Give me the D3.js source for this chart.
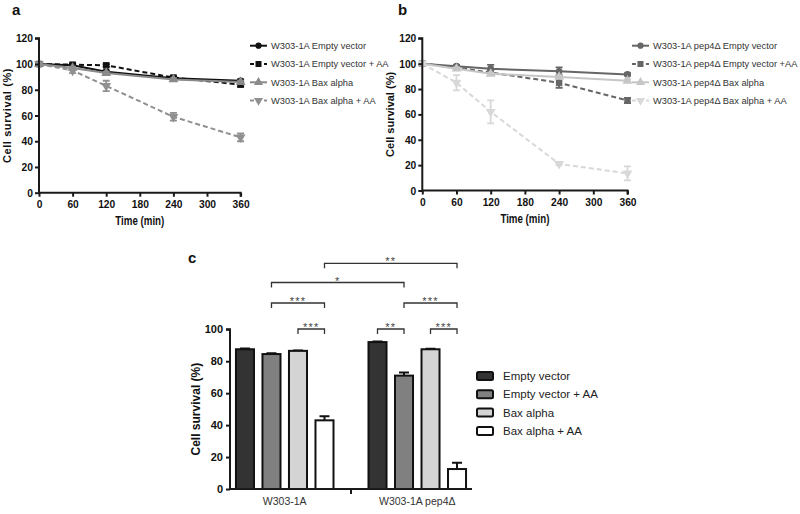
<!DOCTYPE html>
<html><head><meta charset="utf-8">
<script src="https://cdn.jsdelivr.net/npm/d3@7"></script>
<style>
body{margin:0;background:#fff;}
svg{display:block;}
</style></head>
<body>
<svg id="chart" width="800" height="514"></svg>
<script>
// ---------------- DATA ----------------
const timePoints = [0, 60, 120, 240, 360];
const timeTicks = [0, 60, 120, 180, 240, 300, 360];
const survivalTicks = [0, 20, 40, 60, 80, 100, 120];

const namesA = ["W303-1A Empty vector", "W303-1A Empty vector + AA", "W303-1A Bax alpha", "W303-1A Bax  alpha + AA"];
const a_EV      = [100, 99, 94, 89, 87];
const a_EV_err  = [0, 1, 1, 1, 1];
const a_EVAA    = [100, 99.5, 99, 89.5, 84];
const a_EVAA_err= [0, 1, 1, 1, 1.5];
const a_Bax     = [100, 97, 93, 88, 86];
const a_Bax_err = [0, 1, 1, 1, 1];
const a_BaxAA   = [100, 95, 83, 59, 43];
const a_BaxAA_err=[0, 2, 4, 3, 3];

const namesB = ["W303-1A pep4\u0394 Empty vector", "W303-1A pep4\u0394 Empty vector +AA", "W303-1A pep4\u0394 Bax alpha", "W303-1A pep4\u0394 Bax alpha + AA"];
const b_EV      = [100, 98, 96, 94, 91.5];
const b_EV_err  = [0, 1, 3, 3, 1];
const b_EVAA    = [100, 97, 93, 85, 71];
const b_EVAA_err= [0, 1, 2, 4, 2];
const b_Bax     = [100, 96, 92, 89.5, 86.5];
const b_Bax_err = [0, 1, 1, 1, 1];
const b_BaxAA   = [100, 85, 62, 21, 13.5];
const b_BaxAA_err=[0, 6, 9, 1, 5.5];

const strains = ["W303-1A", "W303-1A pep4\u0394"];
const treatments = ["Empty vector", "Empty vector + AA", "Bax alpha", "Bax alpha + AA"];
const barsW303     = [87.5, 84.5, 86.5, 43];
const barsW303_err = [0.5, 0.5, 0.3, 2.5];
const barsPep4     = [92, 71, 87.5, 12.5];
const barsPep4_err = [0.3, 2, 0.3, 4];
const barTicks = [0, 20, 40, 60, 80, 100];
// significance: [strainA, treatA, strainB, treatB, tier, label]
const sigComparisons = [
  [0, 2, 0, 3, 0, "***"],
  [0, 1, 0, 3, 1, "***"],
  [0, 1, 1, 1, 2, "*"],
  [0, 3, 1, 3, 3, "**"],
  [1, 0, 1, 1, 0, "**"],
  [1, 2, 1, 3, 0, "***"],
  [1, 1, 1, 3, 1, "***"]
];

// ---------------- DRAW ----------------
const svg = d3.select("#chart");
const AX = "#1a1a1a";
const sans = "'Liberation Sans',Arial,sans-serif";

function symFor(kind, size) {
  const t = {circle: d3.symbolCircle, square: d3.symbolSquare, tri: d3.symbolTriangle, itri: d3.symbolTriangle}[kind];
  return d3.symbol().type(t).size(size)();
}

function drawLinePanel(o) {
  const g = svg.append("g");
  const x = d3.scaleLinear().domain([0, 360]).range(o.xr);
  const y = d3.scaleLinear().domain([0, 120]).range(o.yr);

  g.append("text").attr("x", o.letter[1]).attr("y", o.letter[2]).text(o.letter[0])
    .attr("font-family", sans).attr("font-weight", "bold").attr("font-size", 15).attr("fill", "#111");

  o.series.forEach(s => {
    const pts = timePoints.map((t, i) => ({t, v: s.values[i], e: s.err[i]}));
    g.append("path").datum(pts)
      .attr("d", d3.line().x(d => x(d.t)).y(d => y(d.v)))
      .attr("fill", "none").attr("stroke", s.color).attr("stroke-width", 2)
      .attr("stroke-dasharray", s.dash ? "5,3" : null);
    pts.forEach(d => {
      if (d.e > 0) {
        const xe = x(d.t);
        g.append("path").attr("d", `M${xe-3.5},${y(d.v+d.e)}H${xe+3.5}M${xe},${y(d.v+d.e)}V${y(d.v-d.e)}M${xe-3.5},${y(d.v-d.e)}H${xe+3.5}`)
          .attr("stroke", s.color).attr("stroke-width", 1.8).attr("fill", "none");
      }
      g.append("path").attr("d", symFor(s.kind, s.kind === "circle" ? 36 : 42))
        .attr("transform", `translate(${x(d.t)},${y(d.v)})` + (s.kind === "itri" ? " rotate(180)" : ""))
        .attr("fill", s.color);
    });
  });

  const yAxis = d3.axisLeft(y).tickValues(survivalTicks).tickSize(4).tickPadding(2);
  const xAxis = d3.axisBottom(x).tickValues(timeTicks).tickSize(4).tickPadding(4);
  const ya = g.append("g").attr("transform", `translate(${o.xr[0]},0)`).call(yAxis);
  const xa = g.append("g").attr("transform", `translate(0,${o.yr[0]})`).call(xAxis);
  [ya, xa].forEach(a => {
    a.select(".domain").attr("stroke", AX).attr("stroke-width", 2);
    a.selectAll(".tick line").attr("stroke", AX).attr("stroke-width", 2);
    a.selectAll(".tick text").attr("font-family", sans).attr("font-weight", "bold")
      .attr("font-size", 11).attr("fill", "#111");
  });
  ya.selectAll(".tick text").each(function () {
    const n = this.textContent.length;
    d3.select(this).attr("textLength", n * 5.7).attr("lengthAdjust", "spacingAndGlyphs");
  });
  xa.selectAll(".tick text").each(function () {
    const n = this.textContent.length;
    d3.select(this).attr("textLength", n * 5.7).attr("lengthAdjust", "spacingAndGlyphs");
  });
  ya.select(".domain").attr("d", `M-4,${o.yr[1]}H0V${o.yr[0]}`);
  xa.select(".domain").attr("d", `M${o.xr[0]},0H${o.xr[1]}V4`);

  g.append("text").attr("transform", `translate(${o.ytitleX},${(o.yr[0]+o.yr[1])/2}) rotate(-90)`)
    .attr("text-anchor", "middle").text("Cell survival (%)")
    .attr("font-family", sans).attr("font-weight", "bold").attr("font-size", 11)
    .attr("letter-spacing", o.ls).attr("fill", "#111");
  g.append("text").attr("x", (o.xr[0]+o.xr[1])/2).attr("y", o.yr[0] + 32)
    .attr("text-anchor", "middle").text("Time (min)")
    .attr("textLength", 49).attr("lengthAdjust", "spacingAndGlyphs")
    .attr("font-family", sans).attr("font-weight", "bold").attr("font-size", 12).attr("fill", "#111");

  o.series.forEach((s, i) => {
    const ly = o.leg[1] + i * 18.3;
    const lx = o.leg[0];
    g.append("line").attr("x1", lx).attr("x2", lx + 17).attr("y1", ly).attr("y2", ly)
      .attr("stroke", s.color).attr("stroke-width", 2).attr("stroke-dasharray", s.dash ? "4,3" : null);
    g.append("path").attr("d", symFor(s.kind, s.kind === "circle" ? 30 : 36))
      .attr("transform", `translate(${lx+8.5},${ly})` + (s.kind === "itri" ? " rotate(180)" : ""))
      .attr("fill", s.color);
    g.append("text").attr("x", lx + 21).attr("y", ly + 3.2).text(s.name)
      .attr("font-family", sans).attr("font-size", 9.3).attr("fill", "#333");
  });
}

drawLinePanel({
  xr: [39, 240.6], yr: [192.7, 38.3], letter: ["a", 12, 15], ytitleX: 11, ls: 0.6, leg: [250, 45.7],
  series: [
    {name: namesA[0], values: a_EV, err: a_EV_err, color: "#111", dash: false, kind: "circle"},
    {name: namesA[1], values: a_EVAA, err: a_EVAA_err, color: "#111", dash: true, kind: "square"},
    {name: namesA[2], values: a_Bax, err: a_Bax_err, color: "#8a8a8a", dash: false, kind: "tri"},
    {name: namesA[3], values: a_BaxAA, err: a_BaxAA_err, color: "#909090", dash: true, kind: "itri"}
  ]
});
drawLinePanel({
  xr: [422.3, 627.5], yr: [190.5, 38.3], letter: ["b", 398, 15], ytitleX: 394, ls: 0, leg: [632, 45.7],
  series: [
    {name: namesB[0], values: b_EV, err: b_EV_err, color: "#666", dash: false, kind: "circle"},
    {name: namesB[1], values: b_EVAA, err: b_EVAA_err, color: "#666", dash: true, kind: "square"},
    {name: namesB[2], values: b_Bax, err: b_Bax_err, color: "#c6c6c6", dash: false, kind: "tri"},
    {name: namesB[3], values: b_BaxAA, err: b_BaxAA_err, color: "#d8d8d8", dash: true, kind: "itri"}
  ]
});

// ---------------- PANEL C ----------------
(function () {
  const g = svg.append("g");
  const x0 = d3.scaleBand().domain(strains).range([230, 472]).paddingInner(0.264).paddingOuter(0.045);
  const x1 = d3.scaleBand().domain(treatments).range([0, x0.bandwidth()]).paddingInner(0.32).paddingOuter(0);
  const y = d3.scaleLinear().domain([0, 100]).range([489, 329.3]);
  const fills = ["#333333", "#808080", "#d4d4d4", "#ffffff"];
  const values = [barsW303, barsPep4];
  const errs = [barsW303_err, barsPep4_err];

  g.append("text").attr("x", 188).attr("y", 263).text("c")
    .attr("font-family", sans).attr("font-weight", "bold").attr("font-size", 15).attr("fill", "#111");

  strains.forEach((st, si) => {
    treatments.forEach((tr, ti) => {
      const v = values[si][ti], e = errs[si][ti];
      const bx = x0(st) + x1(tr), bw = x1.bandwidth();
      g.append("path").attr("d", `M${bx+bw/2},${y(v)}V${y(v+e)}M${bx+bw/2-5},${y(v+e)}H${bx+bw/2+5}`)
        .attr("stroke", "#111").attr("stroke-width", 2).attr("fill", "none");
      g.append("rect").attr("x", bx).attr("y", y(v)).attr("width", bw).attr("height", y(0) - y(v))
        .attr("fill", fills[ti]).attr("stroke", "#111").attr("stroke-width", 2);
    });
  });

  const yAxis = d3.axisLeft(y).tickValues(barTicks).tickSize(4).tickPadding(3);
  const ya = g.append("g").attr("transform", "translate(230,0)").call(yAxis);
  ya.select(".domain").attr("d", `M-4,${y(100)}H0V${y(0)}`).attr("stroke", AX).attr("stroke-width", 2);
  ya.selectAll(".tick line").attr("stroke", AX).attr("stroke-width", 2);
  ya.selectAll(".tick text").attr("font-family", sans).attr("font-weight", "bold").attr("font-size", 11).attr("fill", "#111");

  const boundary = (x0(strains[0]) + x0.bandwidth() + x0(strains[1])) / 2;
  g.append("path").attr("d", `M230,${y(0)}H472M${boundary},${y(0)}V${y(0)+5}`)
    .attr("stroke", AX).attr("stroke-width", 2).attr("fill", "none");
  strains.forEach(st => {
    g.append("text").attr("x", x0(st) + x0.bandwidth() / 2).attr("y", 505).attr("text-anchor", "middle")
      .text(st).attr("font-family", sans).attr("font-size", 10.5).attr("fill", "#333");
  });

  g.append("text").attr("transform", `translate(200,${(y(0)+y(100))/2}) rotate(-90)`)
    .attr("text-anchor", "middle").text("Cell survival (%)")
    .attr("font-family", sans).attr("font-weight", "bold").attr("font-size", 12).attr("fill", "#111");

  const tierY = [329, 303, 282.5, 263.3];
  sigComparisons.forEach(c => {
    const xa = x0(strains[c[0]]) + x1(treatments[c[1]]) + x1.bandwidth() / 2;
    const xb = x0(strains[c[2]]) + x1(treatments[c[3]]) + x1.bandwidth() / 2;
    const yy = tierY[c[4]];
    g.append("path").attr("d", `M${xa},${yy+5}V${yy}H${xb}V${yy+5}`)
      .attr("stroke", "#333").attr("stroke-width", 1.3).attr("fill", "none");
    g.append("text").attr("x", (xa + xb) / 2).attr("y", yy + 2).attr("text-anchor", "middle")
      .attr("letter-spacing", 1.2)
      .text(c[5]).attr("font-family", sans).attr("font-size", 11).attr("fill", "#444");
  });

  treatments.forEach((tr, i) => {
    const ly = 376 + i * 18.3;
    g.append("rect").attr("x", 477).attr("y", ly - 4).attr("width", 16).attr("height", 8).attr("rx", 1.5)
      .attr("fill", fills[i]).attr("stroke", "#111").attr("stroke-width", 2);
    g.append("text").attr("x", 503).attr("y", ly + 4).text(tr)
      .attr("font-family", sans).attr("font-size", 11.5).attr("fill", "#222");
  });
})();
</script>
</body></html>
